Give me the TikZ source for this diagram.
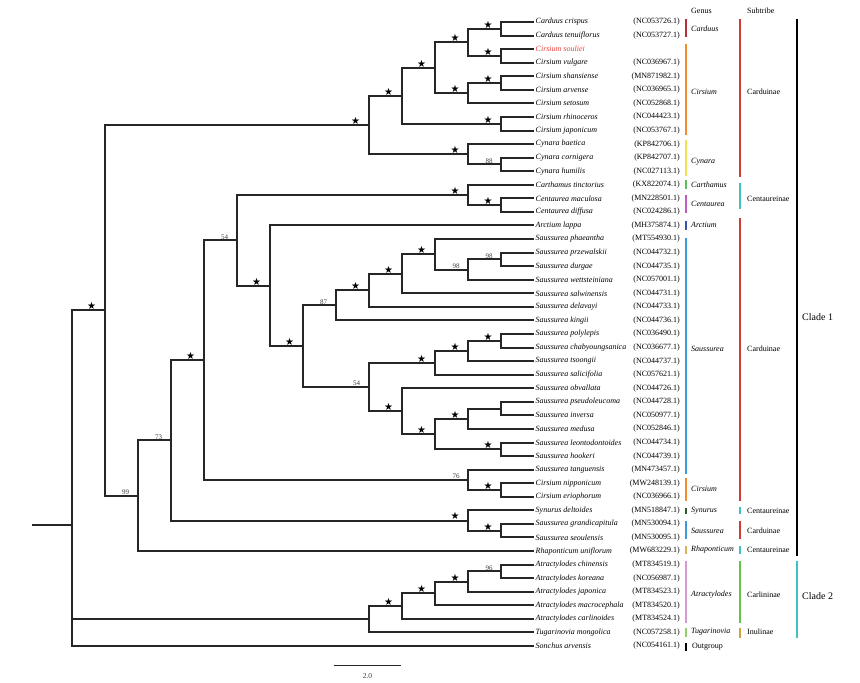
\documentclass[tikz,border=0pt]{standalone}
\usepackage{fontspec}
\setmainfont{Liberation Serif}
\newfontfamily\symf{DejaVu Sans}
\usetikzlibrary{calc}
\newcommand\px[1]{(((#1)-8.435)/13.565)}
\definecolor{cCarduus}{HTML}{B3303C}
\definecolor{cCirsium}{HTML}{F28C2C}
\definecolor{cCynara}{HTML}{EEE24E}
\definecolor{cCarthamus}{HTML}{5CBF5C}
\definecolor{cCentaurea}{HTML}{BF5CBF}
\definecolor{cArctium}{HTML}{3A55A8}
\definecolor{cSaussurea}{HTML}{3A9ADB}
\definecolor{cSynurus}{HTML}{2F5A30}
\definecolor{cRhapont}{HTML}{D8B45A}
\definecolor{cAtract}{HTML}{D89AD6}
\definecolor{cTugar}{HTML}{8FD070}
\definecolor{cCarduinae}{HTML}{D23A3A}
\definecolor{cCentaureinae}{HTML}{3EC2C4}
\definecolor{cCarlininae}{HTML}{66C548}
\definecolor{cInulinae}{HTML}{CFA440}
\definecolor{souliei}{HTML}{E8413A}
\tikzset{
  br/.style={line width=2pt, draw=black!85, line join=miter},
  leaf/.style={anchor=west, inner sep=1.5pt, font=\fontsize{8}{9}\selectfont\itshape},
  acc/.style={anchor=east, inner sep=0pt, font=\fontsize{8}{9}\selectfont},
  strl/.style={anchor=south, inner sep=0.3pt, font=\fontsize{10}{11}\symf},
  numl/.style={anchor=south, inner sep=1pt, font=\fontsize{7}{8}\selectfont, text=black!75},
  gbar/.style={line width=2.4pt},
  glab/.style={anchor=west, inner sep=0pt, font=\fontsize{8}{9}\selectfont\itshape},
  slab/.style={anchor=west, inner sep=0pt, font=\fontsize{8}{9}\selectfont},
  clab/.style={anchor=west, inner sep=0pt, font=\fontsize{10}{11}\selectfont}
}
\begin{document}
\begin{tikzpicture}[x=1pt, y=-13.565pt]
\useasboundingbox[fill=white] (0,{\px{0}}) rectangle (860,{\px{683}});
% leaves
\foreach \i/\nm/\ac in {1/Carduus crispus/NC053726.1,2/Carduus tenuiflorus/NC053727.1,
4/Cirsium vulgare/NC036967.1,5/Cirsium shansiense/MN871982.1,6/Cirsium arvense/NC036965.1,
7/Cirsium setosum/NC052868.1,8/Cirsium rhinoceros/NC044423.1,9/Cirsium japonicum/NC053767.1,
10/Cynara baetica/KP842706.1,11/Cynara cornigera/KP842707.1,12/Cynara humilis/NC027113.1,
13/Carthamus tinctorius/KX822074.1,14/Centaurea maculosa/MN228501.1,15/Centaurea diffusa/NC024286.1,
16/Arctium lappa/MH375874.1,17/Saussurea phaeantha/MT554930.1,18/Saussurea przewalskii/NC044732.1,
19/Saussurea durgae/NC044735.1,20/Saussurea wettsteiniana/NC057001.1,21/Saussurea salwinensis/NC044731.1,
22/Saussurea delavayi/NC044733.1,23/Saussurea kingii/NC044736.1,24/Saussurea polylepis/NC036490.1,
25/Saussurea chabyoungsanica/NC036677.1,26/Saussurea tsoongii/NC044737.1,27/Saussurea salicifolia/NC057621.1,
28/Saussurea obvallata/NC044726.1,29/Saussurea pseudoleucoma/NC044728.1,30/Saussurea inversa/NC050977.1,
31/Saussurea medusa/NC052846.1,32/Saussurea leontodontoides/NC044734.1,33/Saussurea hookeri/NC044739.1,
34/Saussurea tanguensis/MN473457.1,35/Cirsium nipponicum/MW248139.1,36/Cirsium eriophorum/NC036966.1,
37/Synurus deltoides/MN518847.1,38/Saussurea grandicapitula/MN530094.1,39/Saussurea seoulensis/MN530095.1,
40/Rhaponticum uniflorum/MW683229.1,41/Atractylodes chinensis/MT834519.1,42/Atractylodes koreana/NC056987.1,
43/Atractylodes japonica/MT834523.1,44/Atractylodes macrocephala/MT834520.1,45/Atractylodes carlinoides/MT834524.1,
46/Tugarinovia mongolica/NC057258.1,47/Sonchus arvensis/NC054161.1}{
  \coordinate (l\i) at (534,\i);
  \node[leaf] (t\i) at (l\i) {\nm};
  \node[acc] (a\i) at (680,\i) {(\ac)};
}
\coordinate (l3) at (534,3);
\node[leaf, text=souliei] (t3) at (l3) {Cirsium souliei};
% internal nodes
\coordinate (A1) at (501,1.5);
\coordinate (A2) at (501,3.5);
\coordinate (A3) at (468,2.5);
\coordinate (A4) at (501,5.5);
\coordinate (A5) at (468,6.25);
\coordinate (A6) at (434.5,4.375);
\coordinate (A7) at (501,8.5);
\coordinate (A8) at (401.5,6.4375);
\coordinate (A9) at (501,11.5);
\coordinate (A10) at (468,10.75);
\coordinate (A11) at (368.5,8.59375);
\coordinate (B1) at (501,14.5);
\coordinate (B2) at (468,13.75);
\coordinate (C1) at (501,18.5);
\coordinate (C2) at (468,19.25);
\coordinate (C3) at (434.5,18.125);
\coordinate (C4) at (401.5,19.5625);
\coordinate (C5) at (368.5,20.78125);
\coordinate (C6) at (335.5,21.890625);
\coordinate (D1) at (501,24.5);
\coordinate (D2) at (468,25.25);
\coordinate (D3) at (434.5,26.125);
\coordinate (D4) at (501,29.5);
\coordinate (D5) at (468,30.25);
\coordinate (D6) at (501,32.5);
\coordinate (D7) at (434.5,31.375);
\coordinate (D8) at (401.5,29.6875);
\coordinate (D9) at (368.5,27.90625);
\coordinate (C7) at (302.5,24.8984);
\coordinate (B3) at (269.5,20.4492);
\coordinate (B4) at (236.5,17.0996);
\coordinate (E1) at (501,35.5);
\coordinate (E2) at (468,34.75);
\coordinate (E3) at (203.5,25.9248);
\coordinate (F1) at (501,38.5);
\coordinate (F2) at (468,37.75);
\coordinate (F3) at (170.5,31.8374);
\coordinate (F4) at (137.5,35.9187);
\coordinate (G0) at (104.5,22.2562);
\coordinate (H1) at (501,41.5);
\coordinate (H2) at (468,42.25);
\coordinate (H3) at (434.5,43.125);
\coordinate (H4) at (401.5,44.0625);
\coordinate (H5) at (368.5,45.03125);
\coordinate (R) at (71.5,38.096);
\coordinate (stub) at (32,38.096);
% branches
\draw[br] (stub) -- (R);
\foreach \p/\c in {R/G0,R/H5,R/l47,G0/A11,G0/F4,F4/F3,F4/l40,F3/E3,F3/F2,F2/l37,F2/F1,F1/l38,F1/l39,
E3/B4,E3/E2,E2/l34,E2/E1,E1/l35,E1/l36,B4/B2,B4/B3,B2/l13,B2/B1,B1/l14,B1/l15,B3/l16,B3/C7,
C7/C6,C7/D9,C6/C5,C6/l23,C5/C4,C5/l22,C4/C3,C4/l21,C3/l17,C3/C2,C2/C1,C2/l20,C1/l18,C1/l19,
D9/D3,D9/D8,D3/D2,D3/l27,D2/D1,D2/l26,D1/l24,D1/l25,D8/l28,D8/D7,D7/D5,D7/D6,D5/D4,D5/l31,
D4/l29,D4/l30,D6/l32,D6/l33,A11/A8,A11/A10,A8/A6,A8/A7,A6/A3,A6/A5,A3/A1,A3/A2,A1/l1,A1/l2,
A2/l3,A2/l4,A5/A4,A5/l7,A4/l5,A4/l6,A7/l8,A7/l9,A10/l10,A10/A9,A9/l11,A9/l12,
H5/H4,H5/l46,H4/H3,H4/l45,H3/H2,H3/l44,H2/H1,H2/l43,H1/l41,H1/l42}{
  \draw[br] (\p) |- (\c);
}
% support labels
\foreach \n in {A1,A2,A3,A4,A5,A6,A7,A8,A10,A11,B1,B2,B3,C3,C4,C5,C7,D1,D2,D3,D5,D6,D7,D8,E1,E3,F1,F2,G0,H2,H3,H4}{
  \node[strl] (s\n) at ($(\n)+(-13,0)$) {★};
}
\foreach \n/\v in {A9/88,C1/98,C2/98,C6/87,D9/54,B4/54,E2/76,F3/73,F4/99,H1/96}{
  \node[numl] (v\n) at ($(\n)+(-12,0)$) {\v};
}
% headers
\node[slab] (hg) at (691,{\px{11}}) {Genus};
\node[slab] (hs) at (747,{\px{11}}) {Subtribe};
% genus bars and labels
\foreach \a/\b/\c/\m/\t [count=\k] in {19/37/cCarduus/29/Carduus,44/135/cCirsium/92/Cirsium,
140/176/cCynara/162/Cynara,180/189/cCarthamus/185/Carthamus,195/213/cCentaurea/204/Centaurea,
221/230/cArctium/225/Arctium,238/474/cSaussurea/349/Saussurea,478/501/cCirsium/489/Cirsium,
508/514/cSynurus/511/Synurus,521/539/cSaussurea/531/Saussurea,546/554/cRhapont/550/Rhaponticum,
561/623/cAtract/595/Atractylodes,628/637/cTugar/632/Tugarinovia}{
  \draw[gbar, draw=\c] (686,{\px{\a}}) -- (686,{\px{\b}});
  \node[glab] (g\k) at (691,{\px{\m}}) {\t};
}
\draw[gbar, draw=black] (686,{\px{643}}) -- (686,{\px{651}});
\node[slab] (gout) at (692,{\px{647}}) {Outgroup};
% subtribe bars and labels
\foreach \a/\b/\c/\m/\t [count=\k] in {19/177/cCarduinae/92/Carduinae,183/209/cCentaureinae/199/Centaureinae,
218/501/cCarduinae/349/Carduinae,507/514/cCentaureinae/511/Centaureinae,521/539/cCarduinae/531/Carduinae,
546/554/cCentaureinae/550/Centaureinae,561/623/cCarlininae/595/Carlininae,628/638/cInulinae/632/Inulinae}{
  \draw[gbar, draw=\c] (740,{\px{\a}}) -- (740,{\px{\b}});
  \node[slab] (st\k) at (747,{\px{\m}}) {\t};
}
% clades
\draw[line width=1.9pt, draw=black] (797,{\px{19}}) -- (797,{\px{556}});
\node[clab] (cl1) at (802,{\px{317}}) {Clade 1};
\draw[line width=1.9pt, draw=cCentaureinae] (797,{\px{561}}) -- (797,{\px{638}});
\node[clab] (cl2) at (802,{\px{596}}) {Clade 2};
% scale bar
\coordinate (sb1) at (334,{\px{665}});
\coordinate (sb2) at (401,{\px{665}});
\draw[line width=0.9pt, draw=black!85] (sb1) -- (sb2);
\node[numl, anchor=center, font=\fontsize{7.5}{8}\selectfont] (sbl) at (367.5,{\px{676}}) {2.0};
\end{tikzpicture}
\end{document}
